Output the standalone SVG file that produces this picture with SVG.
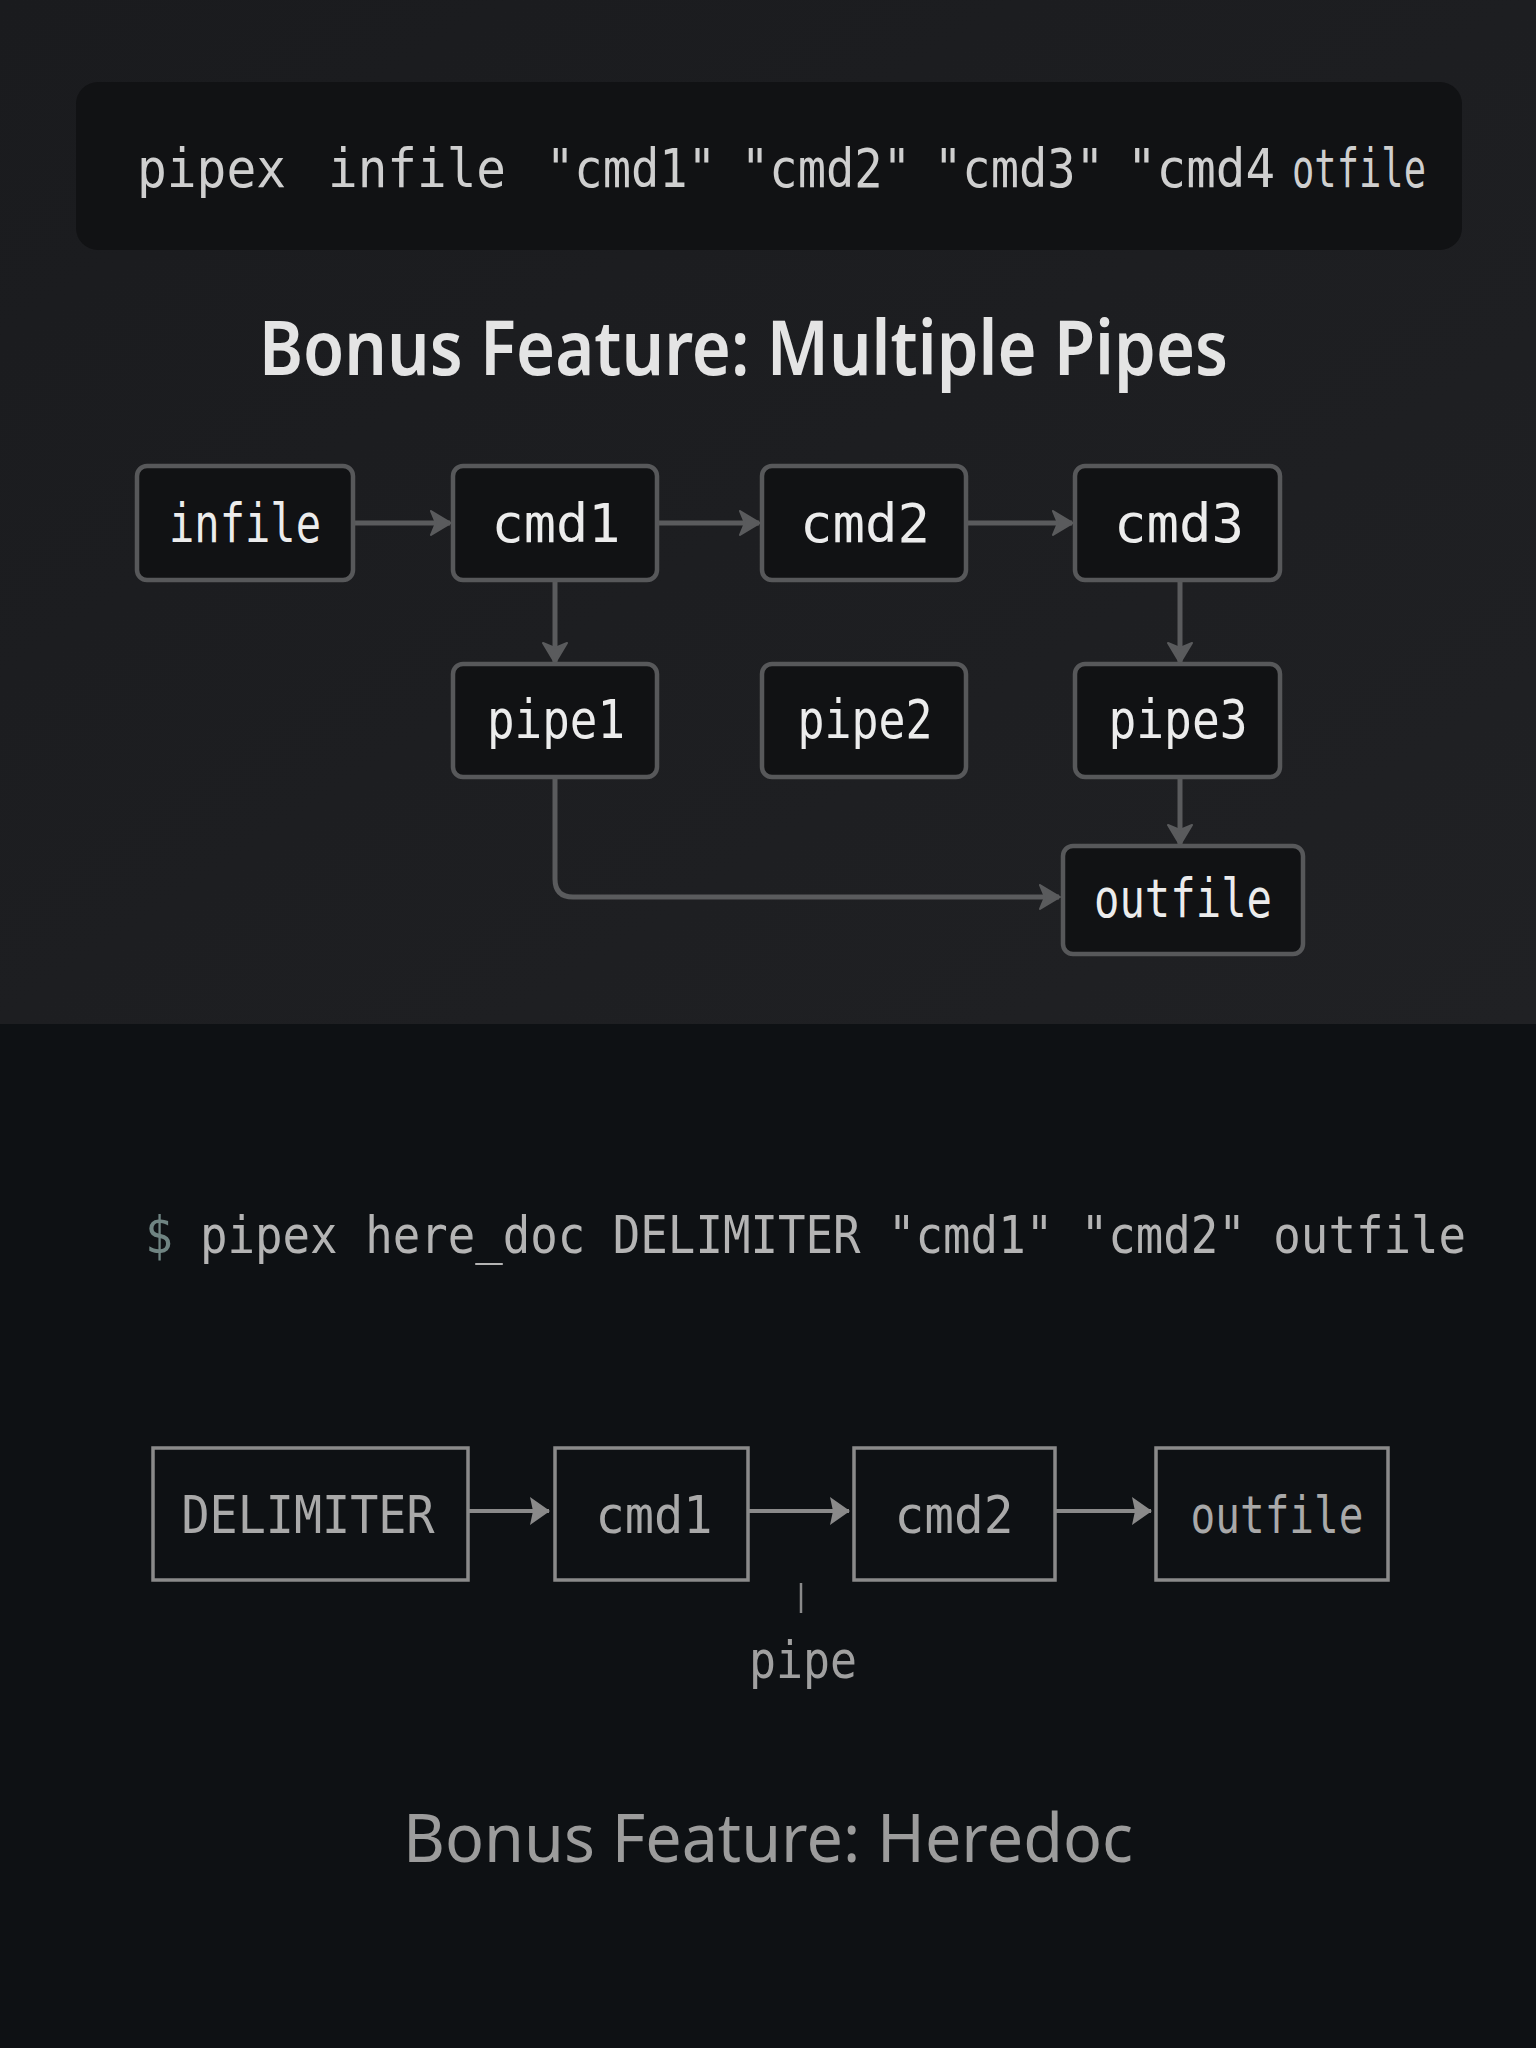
<svg xmlns="http://www.w3.org/2000/svg" width="1536" height="2048" viewBox="0 0 1536 2048">
<defs>
<linearGradient id="topbg" x1="0" y1="0" x2="1" y2="1">
<stop offset="0" stop-color="#1a1b1e"/>
<stop offset="1" stop-color="#202124"/>
</linearGradient>
<marker id="ah" viewBox="0 0 22 26" refX="20" refY="13" markerWidth="22" markerHeight="26" markerUnits="userSpaceOnUse" orient="auto">
<path d="M1,1 L21,13 L1,25 L6,13 z" fill="#5a5b5d" stroke="#5a5b5d" stroke-width="2" stroke-linejoin="round"/>
</marker>
<marker id="ah2" viewBox="0 0 20 28" refX="19" refY="14" markerWidth="20" markerHeight="28" markerUnits="userSpaceOnUse" orient="auto">
<path d="M0,0 L20,14 L0,28 L3,14 z" fill="#8a8a8a"/>
</marker>
<style>
.n rect{fill:#111214;stroke:#57585a;stroke-width:4.5}
.n text{fill:#ececec;font-family:"DejaVu Sans Mono","Liberation Mono",monospace;font-size:54px;text-anchor:middle}
.h rect{fill:#0e1114;stroke:#8a8a8a;stroke-width:3.5}
.h text{fill:#a9a9a9;font-family:"DejaVu Sans Mono","Liberation Mono",monospace;font-size:52px;text-anchor:middle}
.c1{fill:none;stroke:#5a5b5d;stroke-width:5}
.c2{fill:none;stroke:#8a8a8a;stroke-width:4}
.cmd{fill:#cfcfcf;font-family:"DejaVu Sans Mono","Liberation Mono",monospace;font-size:54px}
.cmd2{fill:#b4b4b4;font-family:"DejaVu Sans Mono","Liberation Mono",monospace;font-size:52px}
</style>
</defs>
<rect x="0" y="0" width="1536" height="1024" fill="url(#topbg)"/>
<rect x="0" y="1024" width="1536" height="1024" fill="#0e1114"/>

<g id="command-top">
<rect x="76" y="82" width="1386" height="168" rx="22" fill="#111214"/>
<text class="cmd" x="137" y="187" textLength="149" lengthAdjust="spacingAndGlyphs">pipex</text>
<text class="cmd" x="328" y="187" textLength="178" lengthAdjust="spacingAndGlyphs">infile</text>
<text class="cmd" x="546" y="187" textLength="170" lengthAdjust="spacingAndGlyphs">"cmd1"</text>
<text class="cmd" x="741" y="187" textLength="170" lengthAdjust="spacingAndGlyphs">"cmd2"</text>
<text class="cmd" x="934" y="187" textLength="170" lengthAdjust="spacingAndGlyphs">"cmd3"</text>
<text class="cmd" x="1127" y="187" textLength="148" lengthAdjust="spacingAndGlyphs">"cmd4</text>
<text class="cmd" x="1292" y="187" textLength="134" lengthAdjust="spacingAndGlyphs">otfile</text>
</g>

<text id="title-pipes" x="259" y="375" fill="#e4e4e4" font-family="'Noto Sans','Open Sans',sans-serif" font-weight="600" font-size="76" textLength="969" lengthAdjust="spacingAndGlyphs">Bonus Feature: Multiple Pipes</text>

<g id="connectors-top">
<line class="c1" x1="353" y1="523" x2="450" y2="523" marker-end="url(#ah)"/>
<line class="c1" x1="657" y1="523" x2="759" y2="523" marker-end="url(#ah)"/>
<line class="c1" x1="966" y1="523" x2="1072" y2="523" marker-end="url(#ah)"/>
<line class="c1" x1="555" y1="580" x2="555" y2="662" marker-end="url(#ah)"/>
<line class="c1" x1="1180" y1="580" x2="1180" y2="662" marker-end="url(#ah)"/>
<line class="c1" x1="1180" y1="777" x2="1180" y2="844" marker-end="url(#ah)"/>
<path class="c1" d="M555,777 V879 Q555,897 573,897 H1059" marker-end="url(#ah)"/>
</g>

<g id="infile" class="n"><rect x="137" y="466" width="216" height="114" rx="10"/><text x="245" y="542" textLength="152" lengthAdjust="spacingAndGlyphs">infile</text></g>
<g id="cmd1" class="n"><rect x="453" y="466" width="204" height="114" rx="10"/><text x="556" y="542" textLength="129" lengthAdjust="spacingAndGlyphs">cmd1</text></g>
<g id="cmd2" class="n"><rect x="762" y="466" width="204" height="114" rx="10"/><text x="865" y="542" textLength="130" lengthAdjust="spacingAndGlyphs">cmd2</text></g>
<g id="cmd3" class="n"><rect x="1075" y="466" width="205" height="114" rx="10"/><text x="1179" y="542" textLength="130" lengthAdjust="spacingAndGlyphs">cmd3</text></g>
<g id="pipe1" class="n"><rect x="453" y="664" width="204" height="113" rx="10"/><text x="556" y="738" textLength="138" lengthAdjust="spacingAndGlyphs">pipe1</text></g>
<g id="pipe2" class="n"><rect x="762" y="664" width="204" height="113" rx="10"/><text x="865" y="738" textLength="135" lengthAdjust="spacingAndGlyphs">pipe2</text></g>
<g id="pipe3" class="n"><rect x="1075" y="664" width="205" height="113" rx="10"/><text x="1178" y="738" textLength="139" lengthAdjust="spacingAndGlyphs">pipe3</text></g>
<g id="outfile" class="n"><rect x="1063" y="846" width="240" height="108" rx="10"/><text x="1183" y="917" textLength="178" lengthAdjust="spacingAndGlyphs">outfile</text></g>

<g id="command-heredoc">
<text x="145" y="1253" fill="#6f8482" font-family="'DejaVu Sans Mono','Liberation Mono',monospace" font-size="52" textLength="28" lengthAdjust="spacingAndGlyphs">$</text>
<text class="cmd2" x="200" y="1253" textLength="1266" lengthAdjust="spacingAndGlyphs">pipex here_doc DELIMITER "cmd1" "cmd2" outfile</text>
</g>

<g id="connectors-heredoc">
<line class="c2" x1="468" y1="1511" x2="549" y2="1511" marker-end="url(#ah2)"/>
<line class="c2" x1="749" y1="1511" x2="849" y2="1511" marker-end="url(#ah2)"/>
<line class="c2" x1="1056" y1="1511" x2="1151" y2="1511" marker-end="url(#ah2)"/>
<line x1="801" y1="1583" x2="801" y2="1613" stroke="#8a8a8a" stroke-width="2.5"/>
</g>

<g id="h-delimiter" class="h"><rect x="153" y="1448" width="315" height="132"/><text x="308" y="1533" textLength="253" lengthAdjust="spacingAndGlyphs">DELIMITER</text></g>
<g id="h-cmd1" class="h"><rect x="555" y="1448" width="193" height="132"/><text x="654" y="1533" textLength="117" lengthAdjust="spacingAndGlyphs">cmd1</text></g>
<g id="h-cmd2" class="h"><rect x="854" y="1448" width="201" height="132"/><text x="954" y="1533" textLength="119" lengthAdjust="spacingAndGlyphs">cmd2</text></g>
<g id="h-outfile" class="h"><rect x="1156" y="1448" width="232" height="132"/><text x="1277" y="1533" textLength="173" lengthAdjust="spacingAndGlyphs">outfile</text></g>

<text id="pipe-label" x="803" y="1678" fill="#a0a0a0" font-family="'DejaVu Sans Mono','Liberation Mono',monospace" font-size="52" text-anchor="middle" textLength="108" lengthAdjust="spacingAndGlyphs">pipe</text>

<text id="title-heredoc" x="403" y="1862" fill="#9c9c9c" font-family="'Noto Sans','Open Sans',sans-serif" font-size="68" textLength="730" lengthAdjust="spacingAndGlyphs">Bonus Feature: Heredoc</text>
</svg>
